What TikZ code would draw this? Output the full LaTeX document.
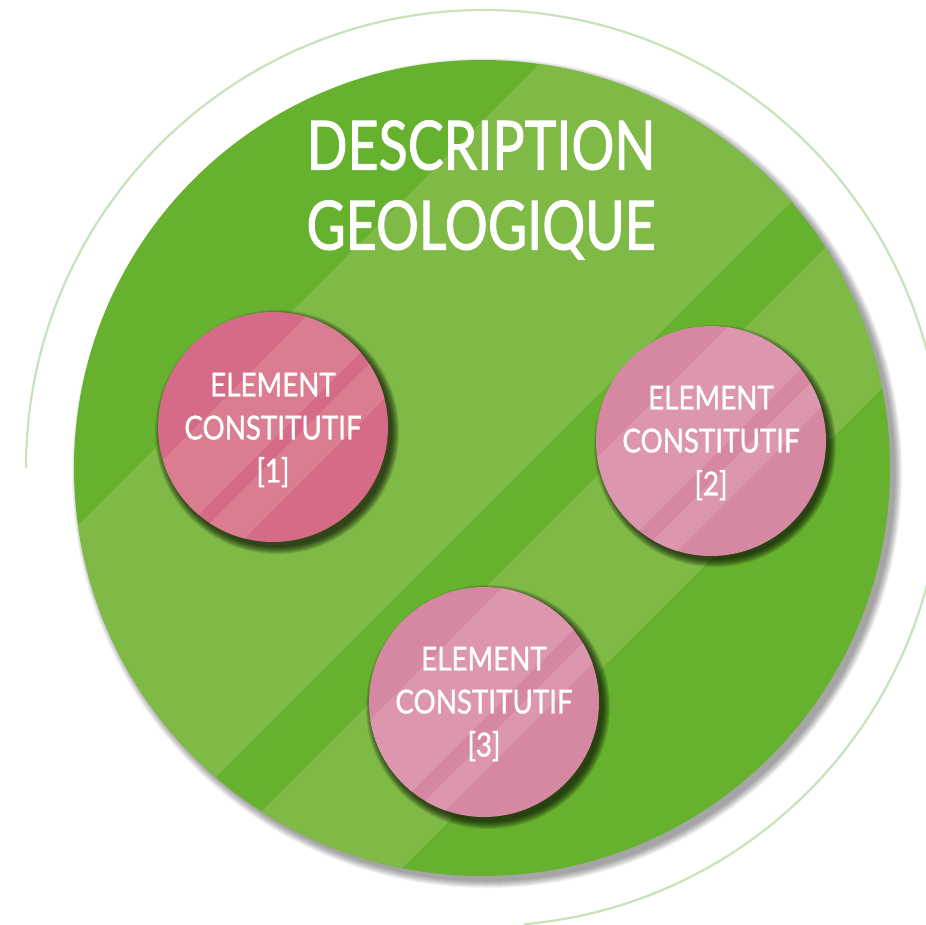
\documentclass[tikz,border=0pt]{standalone}
\usepackage{fontspec}
\newfontfamily\handfont[FakeStretch=0.79,FakeBold=1.3]{Lato}
\newfontfamily\handfontsmall[FakeStretch=0.84,FakeBold=1.1]{Lato}
\definecolor{gdark}{RGB}{102,178,46}
\definecolor{glight}{RGB}{126,186,69}
\definecolor{arcgreen}{RGB}{200,226,186}
\definecolor{pAdark}{RGB}{214,107,135}
\definecolor{pAlight}{RGB}{219,125,145}
\definecolor{pBdark}{RGB}{214,136,163}
\definecolor{pBlight}{RGB}{220,150,174}
\newcommand\softshadow[4]{\foreach \k in {0,...,7}{\fill[black,opacity=#4] (#1,#2) circle ({#3+7-\k});}}
\newcommand\diagband[2]{\fill (#1+600,-600) -- (#2+600,-600) -- (#2-1600,1600) -- (#1-1600,1600) -- cycle;}
\begin{document}
\begin{tikzpicture}[x=1pt,y=-1pt,
  bigdisc/.style={circle, inner sep=0pt, minimum size=816pt, fill=gdark},
  pinkdisc/.style={circle, inner sep=0pt, minimum size=230pt},
  titletext/.style={text=white, align=center, inner sep=0pt, font=\handfont\fontsize{68}{80}\selectfont},
  elemtext/.style={text=white, align=center, inner sep=0pt, font=\handfontsmall\fontsize{33}{43}\selectfont}]
\useasboundingbox (0,0) rectangle (926,924);
\fill[white] (0,0) rectangle (926,924);
% outer thin arc
\coordinate (arcc) at (484,468);
\draw[arcgreen, line width=2.2pt] (arcc) ++(-180:458) arc[start angle=-180, end angle=85, radius=458];
% big disc
\softshadow{487}{473}{408}{0.05}
\node[bigdisc] (main) at (482,468) {};
\begin{scope}
  \clip (main.center) circle (408);
  \begin{scope}[fill=glight]
    \diagband{603}{993}
    \diagband{1073}{1270}
  \end{scope}
\end{scope}
\node[titletext] (title) at (481,190) {DESCRIPTION\\GEOLOGIQUE};
% pink discs
\softshadow{277}{432}{115}{0.11}
\softshadow{715}{446}{114}{0.11}
\softshadow{488}{707}{115}{0.11}
\node[pinkdisc, fill=pAdark] (e1) at (273,427) {};
\node[pinkdisc, fill=pBdark] (e2) at (711,441) {};
\node[pinkdisc, fill=pBdark] (e3) at (484,702) {};
\begin{scope}
  \clip (e1.center) circle (115);
  \begin{scope}[fill=pAlight]
    \diagband{623}{713}
    \diagband{733}{783}
  \end{scope}
\end{scope}
\begin{scope}
  \clip (e2.center) circle (115);
  \begin{scope}[fill=pBlight]
    \diagband{1055}{1170}
    \diagband{1193}{1228}
  \end{scope}
\end{scope}
\begin{scope}
  \clip (e3.center) circle (115);
  \begin{scope}[fill=pBlight]
    \diagband{1090}{1203}
    \diagband{1226}{1256}
  \end{scope}
\end{scope}
\node[elemtext] (t1) at (273,430) {ELEMENT\\CONSTITUTIF\\{[1]}};
\node[elemtext] (t2) at (711,443) {ELEMENT\\CONSTITUTIF\\{[2]}};
\node[elemtext] (t3) at (484,704) {ELEMENT\\CONSTITUTIF\\{[3]}};
\end{tikzpicture}
\end{document}
